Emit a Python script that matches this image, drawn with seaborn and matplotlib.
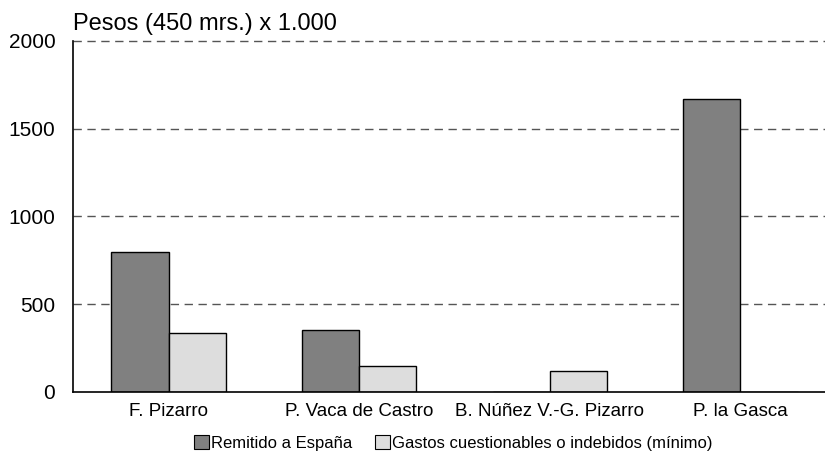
import matplotlib
matplotlib.use("Agg")
import matplotlib.pyplot as plt
import pandas as pd
import seaborn as sns
from matplotlib.patches import Patch

personas = ["F. Pizarro", "P. Vaca de Castro", "B. Núñez V.-G. Pizarro", "P. la Gasca"]
remitido = [795, 352, 0, 1669]
gastos = [333, 148, 116, 0]
series = ["Remitido a España", "Gastos cuestionables o indebidos (mínimo)"]
colores = ["#808080", "#dddddd"]
yticks = [0, 500, 1000, 1500, 2000]

df = pd.DataFrame({
    "persona": personas * 2,
    "pesos": remitido + gastos,
    "serie": [series[0]] * len(personas) + [series[1]] * len(personas),
})

sns.set_style("white")
plt.rcParams["font.family"] = ["Liberation Sans", "DejaVu Sans"]
plt.rcParams["text.color"] = "black"
plt.rcParams["xtick.color"] = "black"
plt.rcParams["ytick.color"] = "black"

fig = plt.figure(figsize=(8.25, 4.54), dpi=100)
ax = fig.add_axes([0.0889, 0.1372, 0.9241, 0.7725])

sns.barplot(data=df, x="persona", y="pesos", hue="serie", palette=colores,
            width=0.6, edgecolor="black", linewidth=1, legend=False, ax=ax)

ax.set_xlim(-0.5, 3.5)
ax.set_ylim(0, 2000)
ax.set_yticks(yticks)
ax.set_xlabel("")
ax.set_ylabel("")
ax.tick_params(axis="y", length=0, pad=13, labelsize=15, labelcolor="black")
ax.tick_params(axis="x", length=0, pad=8, labelsize=13.5, labelcolor="black")

ax.set_axisbelow(True)
for y in yticks[1:]:
    ax.axhline(y, color="#555555", linestyle=(0, (6, 4)), linewidth=1,
               zorder=0, clip_on=False)

for side in ["top", "right"]:
    ax.spines[side].set_visible(False)
for side in ["left", "bottom"]:
    ax.spines[side].set_color("black")
    ax.spines[side].set_linewidth(1.2)

fig.text(73.3 / 825, 424 / 454, "Pesos (450 mrs.) x 1.000",
         ha="left", va="baseline", fontsize=17, color="black")

handles = [Patch(facecolor=c, edgecolor="black", linewidth=0.8) for c in colores]
fig.legend(handles, series, loc="center", bbox_to_anchor=(453.4 / 825, 11 / 454),
           ncol=2, frameon=False, fontsize=12, handlelength=0.9, handleheight=0.9,
           handletextpad=0.1, columnspacing=1.4, borderpad=0, borderaxespad=0)

fig.savefig("out.png", dpi=100)
